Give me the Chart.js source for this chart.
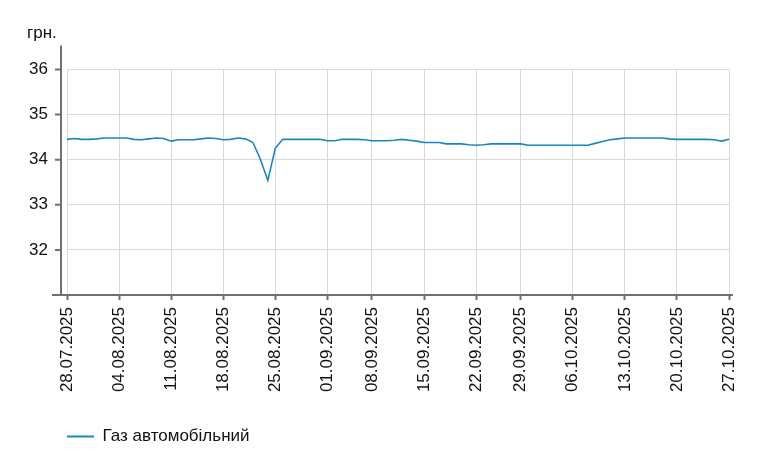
<html>
<head>
<meta charset="utf-8">
<title>Газ автомобільний</title>
<script src="https://cdn.jsdelivr.net/npm/chart.js@4.4.1/dist/chart.umd.min.js"></script>
<style>
  body { margin: 0; background: #fff; }
  #wrap { width: 774px; height: 474px; }
</style>
</head>
<body>
<div id="wrap"><canvas id="priceChart"></canvas></div>
<script>
// dates with a price (07.09 and 28.09 have no record)
var dates = [
  '28.07.2025','29.07.2025','30.07.2025','31.07.2025','01.08.2025','02.08.2025','03.08.2025',
  '04.08.2025','05.08.2025','06.08.2025','07.08.2025','08.08.2025','09.08.2025','10.08.2025',
  '11.08.2025','12.08.2025','13.08.2025','14.08.2025','15.08.2025','16.08.2025','17.08.2025',
  '18.08.2025','19.08.2025','20.08.2025','21.08.2025','22.08.2025','23.08.2025','24.08.2025',
  '25.08.2025','26.08.2025','27.08.2025','28.08.2025','29.08.2025','30.08.2025','31.08.2025',
  '01.09.2025','02.09.2025','03.09.2025','04.09.2025','05.09.2025','06.09.2025',
  '08.09.2025','09.09.2025','10.09.2025','11.09.2025','12.09.2025','13.09.2025','14.09.2025',
  '15.09.2025','16.09.2025','17.09.2025','18.09.2025','19.09.2025','20.09.2025','21.09.2025',
  '22.09.2025','23.09.2025','24.09.2025','25.09.2025','26.09.2025','27.09.2025',
  '29.09.2025','30.09.2025','01.10.2025','02.10.2025','03.10.2025','04.10.2025','05.10.2025',
  '06.10.2025','07.10.2025','08.10.2025','09.10.2025','10.10.2025','11.10.2025','12.10.2025',
  '13.10.2025','14.10.2025','15.10.2025','16.10.2025','17.10.2025','18.10.2025','19.10.2025',
  '20.10.2025','21.10.2025','22.10.2025','23.10.2025','24.10.2025','25.10.2025','26.10.2025',
  '27.10.2025'
];

var gasPrice = [
  34.45, 34.47, 34.45, 34.45, 34.46, 34.48, 34.48,
  34.48, 34.48, 34.45, 34.44, 34.46, 34.48, 34.47,
  34.41, 34.44, 34.44, 34.44, 34.46, 34.48, 34.47,
  34.44, 34.45, 34.48, 34.46, 34.38, 34.01, 33.54,
  34.25, 34.45, 34.45, 34.45, 34.45, 34.45, 34.45,
  34.42, 34.42, 34.45, 34.45, 34.45, 34.44,
  34.42, 34.42, 34.42, 34.43, 34.45, 34.43, 34.41,
  34.38, 34.38, 34.38, 34.35, 34.35, 34.35, 34.33,
  34.32, 34.33, 34.35, 34.35, 34.35, 34.35,
  34.35, 34.32, 34.32, 34.32, 34.32, 34.32, 34.32,
  34.32, 34.32, 34.32, 34.36, 34.40, 34.44, 34.46,
  34.48, 34.48, 34.48, 34.48, 34.48, 34.48, 34.46,
  34.45, 34.45, 34.45, 34.45, 34.45, 34.44, 34.41,
  34.45
];

// labelled days on the x axis
var tickDates = [
  '28.07.2025','04.08.2025','11.08.2025','18.08.2025','25.08.2025','01.09.2025','08.09.2025',
  '15.09.2025','22.09.2025','29.09.2025','06.10.2025','13.10.2025','20.10.2025','27.10.2025'
];

var yTicks = [32, 33, 34, 35, 36];

var axisGray = '#707070';
var lineBlue = '#1786c2';

Chart.defaults.font.family = "'Liberation Sans', Arial, sans-serif";
Chart.defaults.font.size = 17;
Chart.defaults.color = '#111';

// offset axis lines like the original, plus legend shift
var offsetAxes = {
  id: 'offsetAxes',
  afterLayout: function(chart) {
    chart.legend.left += 30;
  },
  afterDraw: function(chart) {
    var ctx = chart.ctx, a = chart.chartArea, y = chart.scales.y;
    ctx.save();
    ctx.strokeStyle = axisGray;
    ctx.lineWidth = 2;
    ctx.beginPath();
    ctx.moveTo(a.left - 6, a.top - 24);
    ctx.lineTo(a.left - 6, a.bottom);
    ctx.moveTo(a.left - 15, a.bottom);
    ctx.lineTo(a.right + 4, a.bottom);
    yTicks.forEach(function(v) {
      var py = y.getPixelForValue(v);
      ctx.moveTo(a.left - 12, py);
      ctx.lineTo(a.left - 6, py);
    });
    ctx.stroke();
    ctx.restore();
  }
};

new Chart(document.getElementById('priceChart'), {
  type: 'line',
  data: {
    labels: dates,
    datasets: [{
      label: 'Газ автомобільний',
      data: gasPrice,
      borderColor: lineBlue,
      backgroundColor: lineBlue,
      borderWidth: 1.6,
      pointRadius: 0,
      tension: 0,
      fill: false
    }]
  },
  options: {
    responsive: true,
    maintainAspectRatio: false,
    animation: false,
    layout: { padding: { left: 27, right: 45, top: 0, bottom: 19 } },
    plugins: {
      title: {
        display: true,
        text: 'грн.',
        align: 'start',
        color: '#111',
        font: { size: 17, weight: 'normal' },
        padding: { top: 23, bottom: 26 }
      },
      legend: {
        position: 'bottom',
        align: 'start',
        labels: {
          boxWidth: 27,
          boxHeight: 2,
          color: '#111',
          font: { size: 17 },
          generateLabels: function(chart) {
            var items = Chart.defaults.plugins.legend.labels.generateLabels(chart);
            items.forEach(function(it) { it.lineWidth = 0; it.fillStyle = lineBlue; });
            return items;
          }
        }
      },
      tooltip: { enabled: false }
    },
    scales: {
      x: {
        type: 'category',
        offset: false,
        border: { display: false },
        grid: { color: '#d9d9d9', lineWidth: 1, tickLength: 5, tickColor: axisGray, tickWidth: 2 },
        ticks: {
          autoSkip: false,
          minRotation: 90,
          maxRotation: 90,
          padding: 7,
          color: '#111',
          callback: function(val, i) {
            var d = dates[i];
            return tickDates.indexOf(d) >= 0 ? d : null;
          }
        },
        afterFit: function(s) { s.height = 123; }
      },
      y: {
        min: 31,
        max: 36,
        border: { display: false },
        grid: { color: '#d9d9d9', lineWidth: 1, drawTicks: false },
        ticks: {
          stepSize: 1,
          padding: 19,
          color: '#111',
          callback: function(v) { return yTicks.indexOf(v) >= 0 ? String(v) : null; }
        },
        afterFit: function(s) { s.width = 40; }
      }
    }
  },
  plugins: [offsetAxes]
});
</script>
</body>
</html>
